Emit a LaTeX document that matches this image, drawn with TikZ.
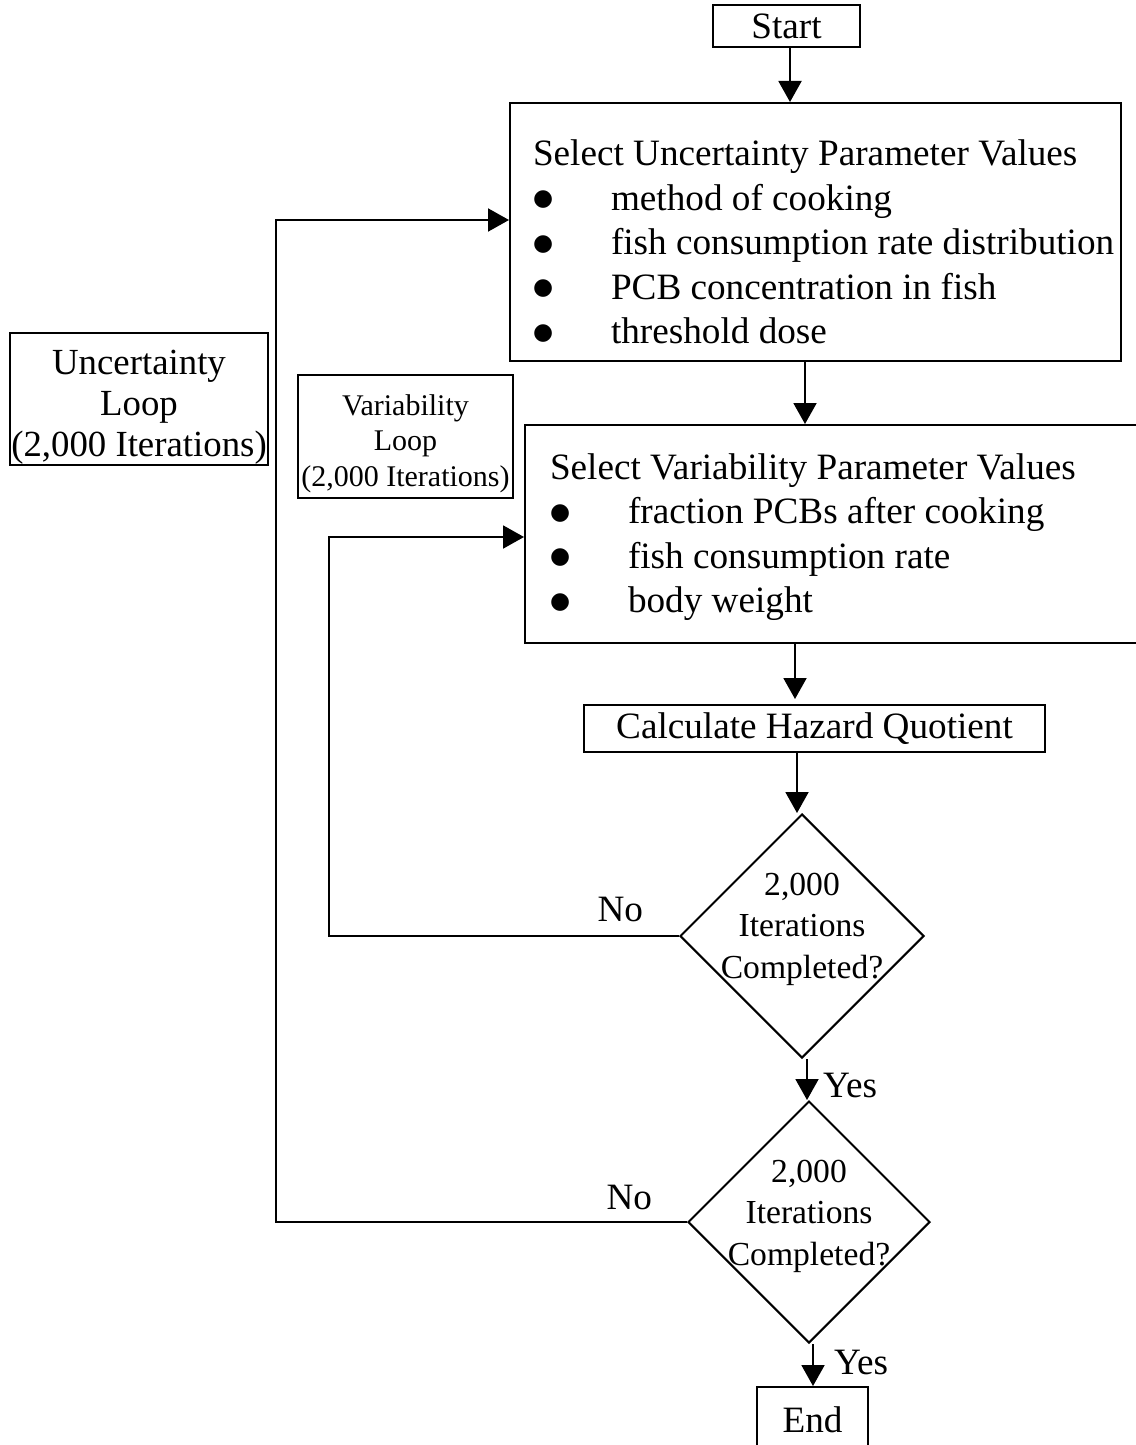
\documentclass[tikz,border=0pt]{standalone}
\usepackage{fontspec}
\setmainfont{Liberation Serif}
\newfontfamily\symfont{DejaVu Sans}
\usetikzlibrary{arrows.meta,shapes.geometric,positioning}
\newcommand{\bul}{\makebox[39pt][l]{\raisebox{2.25pt}{\fontsize{11.5}{11.5}\symfont ●}}}

\begin{document}
\begin{tikzpicture}[x=0.5pt, y=-0.5pt, line width=1pt,
  >={Triangle[length=10.5pt,width=11.5pt]},
  font=\fontsize{18.6}{22.25}\selectfont,
  pbox/.style={draw, rectangle, inner sep=0pt},
  txt/.style={inner sep=0pt, align=left, anchor=west},
  ctxt/.style={inner sep=0pt, align=center},
  dec/.style={draw, diamond, aspect=1, inner sep=0pt, minimum width=122pt, minimum height=122pt},
  dtxt/.style={ctxt, font=\fontsize{16.8}{20.75}\selectfont},
  lbl/.style={inner sep=0pt}]
\useasboundingbox (0,0) rectangle (1135,1445);
% main column
\node[pbox, minimum width=73.5pt, minimum height=21pt] (start) at (786.5,26) {Start};
\node[pbox, minimum width=305.5pt, minimum height=129pt] (unc) at (815.5,232) {};
\node[txt] (utxt) at ([xshift=11.5pt,yshift=-5pt]unc.west) {Select Uncertainty Parameter Values\\
  \bul method of cooking\\
  \bul fish consumption rate distribution\\
  \bul PCB concentration in fish\\
  \bul threshold dose};
\node[pbox, minimum width=312.5pt, minimum height=109pt] (var) at (837.5,534) {};
\node[txt] (vtxt) at ([xshift=12.5pt,yshift=-1.5pt]var.west) {Select Variability Parameter Values\\
  \bul fraction PCBs after cooking\\
  \bul fish consumption rate\\
  \bul body weight};
\node[pbox, minimum width=230.5pt, minimum height=23.5pt] (calc) at (814.5,728.5) {Calculate Hazard Quotient};
\node[dec] (dec1) at (802,936) {};
\node[dtxt, yshift=3.5pt] (q1) at (dec1) {2,000\\Iterations\\Completed?};
\node[dec, minimum width=121pt, minimum height=121pt] (dec2) at (809,1222) {};
\node[dtxt, yshift=3pt] (q2) at (dec2) {2,000\\Iterations\\Completed?};
\node[pbox, minimum width=55.5pt, minimum height=33pt] (stop) at (812.5,1420) {End};
% loop boxes
\node[pbox, minimum width=129pt, minimum height=66pt] (uloop) at (139,399) {};
\node[ctxt, yshift=-4pt, font=\fontsize{18.4}{20.5}\selectfont] (ultxt) at (uloop) {Uncertainty\\Loop\\(2,000 Iterations)};
\node[pbox, minimum width=107.5pt, minimum height=61.5pt] (vloop) at (405.5,436.5) {};
\node[ctxt, yshift=-3.5pt, font=\fontsize{15}{17.75}\selectfont] (vltxt) at (vloop) {Variability\\Loop\\(2,000 Iterations)};
\coordinate (ux) at (276,0);
\coordinate (vx) at (329,0);
% arrows
\draw[->] ([xshift=1.75pt]start.south) -- ([xshift=1.75pt]start.south |- unc.north);
\draw[->] ([xshift=-5.25pt]unc.south) -- ([xshift=-5.25pt]unc.south |- var.north);
\draw[->] ([xshift=-21.25pt]var.south) -- ([xshift=-21.25pt,yshift=2.5pt]var.south |- calc.north);
\draw[->] ([xshift=-8.75pt]calc.south) -- ([xshift=-8.75pt]calc.south |- dec1.north);
\draw[->] ([xshift=2.5pt]dec1.south) -- ([xshift=2.5pt]dec1.south |- dec2.north) node[lbl, pos=0.65, right=7.5pt] {Yes};
\draw[->] ([xshift=2pt]dec2.south) -- ([xshift=2pt]dec2.south |- stop.north) node[lbl, pos=0.43, right=10pt] {Yes};
% no branches
\draw[->] (dec1.west) -- (dec1.west -| vx) |- ([yshift=-1.5pt]var.west);
\node[lbl, anchor=south east] (no1) at ([xshift=-17.5pt,yshift=6.5pt]dec1.west) {No};
\draw[->] (dec2.west) -- (dec2.west -| ux) |- ([yshift=6pt]unc.west);
\node[lbl, anchor=south east] (no2) at ([xshift=-17pt,yshift=5.5pt]dec2.west) {No};
\end{tikzpicture}
\end{document}
